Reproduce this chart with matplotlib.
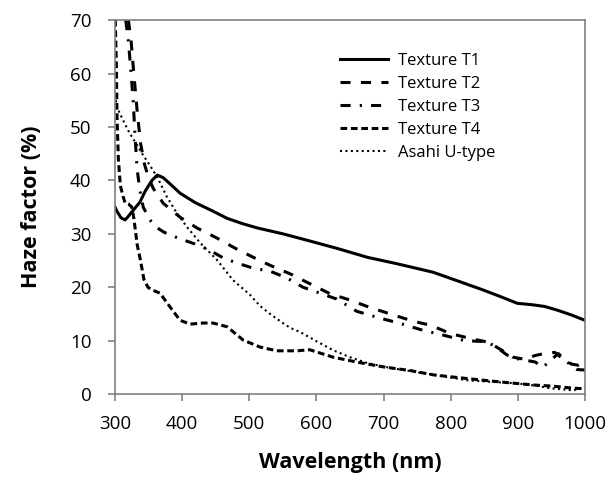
import matplotlib
matplotlib.use("Agg")
import matplotlib.pyplot as plt

plt.rcParams['font.family'] = ['Open Sans', 'DejaVu Sans']

# Texture T1 (solid)
t1_x = [300, 303, 309, 315, 320, 325, 331, 337, 345, 355, 363, 372, 385, 397, 420, 445, 467, 490, 512, 550, 586, 630, 676, 720, 774, 810, 848, 875, 899, 923, 940, 959, 980, 1000]
t1_y = [35.0, 34.2, 33.0, 32.6, 33.3, 34.1, 35.0, 35.9, 38.0, 40.0, 41.0, 40.5, 39.0, 37.6, 35.8, 34.3, 32.9, 31.9, 31.1, 30.0, 28.8, 27.3, 25.6, 24.4, 22.8, 21.2, 19.5, 18.2, 17.0, 16.7, 16.4, 15.7, 14.8, 13.8]

# Texture T2 (long dash)
t2_x = [320, 324, 328, 333, 338, 344, 350, 357, 372, 397, 422, 452, 479, 506, 531, 561, 588, 620, 650, 680, 710, 745, 770, 800, 830, 856, 875, 893, 911, 925, 940, 955, 965, 980, 990, 1000]
t2_y = [70.0, 66.0, 60.0, 53.0, 47.0, 43.0, 40.5, 38.5, 35.7, 33.1, 31.1, 29.2, 27.3, 25.6, 24.1, 22.5, 20.8, 18.8, 17.6, 16.2, 15.0, 13.6, 12.9, 11.3, 10.4, 9.7, 8.3, 6.9, 6.5, 7.2, 7.6, 7.8, 6.8, 5.6, 5.4, 6.0]

# Texture T3 (dash-dot)
t3_x = [316, 320, 324, 327, 330, 333, 337, 342, 352, 362, 373, 394, 419, 440, 461, 480, 505, 531, 555, 580, 605, 630, 660, 695, 720, 757, 790, 821, 854, 870, 884, 900, 926, 937, 948, 960, 970, 980, 988, 1000]
t3_y = [70.0, 66.0, 60.0, 55.0, 48.0, 42.0, 38.2, 35.0, 32.6, 31.2, 30.3, 29.2, 28.1, 27.0, 25.5, 24.6, 23.6, 23.0, 21.8, 20.0, 18.9, 17.8, 15.5, 14.2, 13.4, 12.0, 11.0, 10.0, 9.8, 8.6, 7.3, 6.6, 6.0, 5.0, 6.2, 7.6, 6.5, 5.2, 4.6, 4.5]

# Texture T4 (short dash)
t4_x = [300, 302, 303, 305, 308, 312, 315, 320, 325, 328, 333, 338, 343, 349, 355, 367, 382, 397, 412, 431, 446, 467, 491, 516, 541, 571, 590, 625, 660, 699, 740, 774, 810, 848, 880, 923, 950, 983, 1000]
t4_y = [72.0, 62.0, 52.0, 44.0, 39.0, 37.0, 35.8, 35.6, 35.0, 33.0, 28.0, 25.0, 21.5, 20.0, 19.5, 18.9, 16.3, 13.8, 13.1, 13.3, 13.3, 12.6, 10.1, 8.8, 8.1, 8.1, 8.3, 6.9, 6.0, 5.1, 4.4, 3.6, 3.1, 2.6, 2.2, 1.7, 1.5, 1.1, 1.0]

# Asahi U-type (dotted)
as_x = [300, 303, 307, 315, 322, 333, 342, 352, 363, 377, 392, 407, 427, 452, 476, 501, 516, 531, 550, 561, 576, 600, 625, 650, 676, 710, 750, 790, 824, 860, 899, 925, 948, 965, 983, 1000]
as_y = [56.0, 53.7, 52.6, 50.5, 48.8, 46.6, 44.7, 42.8, 40.6, 37.0, 33.9, 31.3, 28.3, 25.1, 21.3, 18.6, 16.5, 15.0, 13.3, 12.4, 11.6, 9.9, 8.2, 6.9, 5.8, 4.9, 4.1, 3.3, 2.6, 2.3, 2.0, 1.6, 1.1, 0.9, 0.7, 1.3]

labels = ["Texture T1", "Texture T2", "Texture T3", "Texture T4", "Asahi U-type"]
x_ticks = [300, 400, 500, 600, 700, 800, 900, 1000]
y_ticks = [0, 10, 20, 30, 40, 50, 60, 70]

fig = plt.figure(figsize=(6.14, 4.8), dpi=100)
ax = fig.add_axes([0.1873, 0.179, 0.7655, 0.779])

lw = 2.2
ax.plot(t1_x, t1_y, color='black', lw=lw, linestyle='-', label=labels[0])
ax.plot(t2_x, t2_y, color='black', lw=lw, linestyle=(0, (3.3, 3.4)), label=labels[1])
ax.plot(t3_x, t3_y, color='black', lw=lw, linestyle=(0, (3.3, 3.0, 0.7, 3.0)), label=labels[2])
ax.plot(t4_x, t4_y, color='black', lw=lw, linestyle=(0, (2.2, 1.2)), label=labels[3])
ax.plot(as_x, as_y, color='black', lw=1.5, linestyle=(0, (1, 1.6)), label=labels[4])

ax.set_xlim(300, 1000)
ax.set_ylim(0, 70)
ax.set_xticks(x_ticks)
ax.set_yticks(y_ticks)
ax.tick_params(axis='both', direction='out', length=5, width=1.2, color='#808080',
               labelsize=13.5)
ax.tick_params(axis='x', pad=10)
ax.tick_params(axis='y', pad=12)
for s in ax.spines.values():
    s.set_color('#808080')
    s.set_linewidth(1.2)

ax.set_xlabel("Wavelength (nm)", fontsize=15.5, fontweight='bold', labelpad=14)
ax.set_ylabel("Haze factor (%)", fontsize=15.5, fontweight='bold', labelpad=20)

leg = ax.legend(loc='upper left', bbox_to_anchor=(0.479, 0.912), frameon=False,
                fontsize=12, handlelength=2.9, handletextpad=0.6, labelspacing=0.42,
                borderpad=0, borderaxespad=0)

fig.savefig("out.png", dpi=100)
